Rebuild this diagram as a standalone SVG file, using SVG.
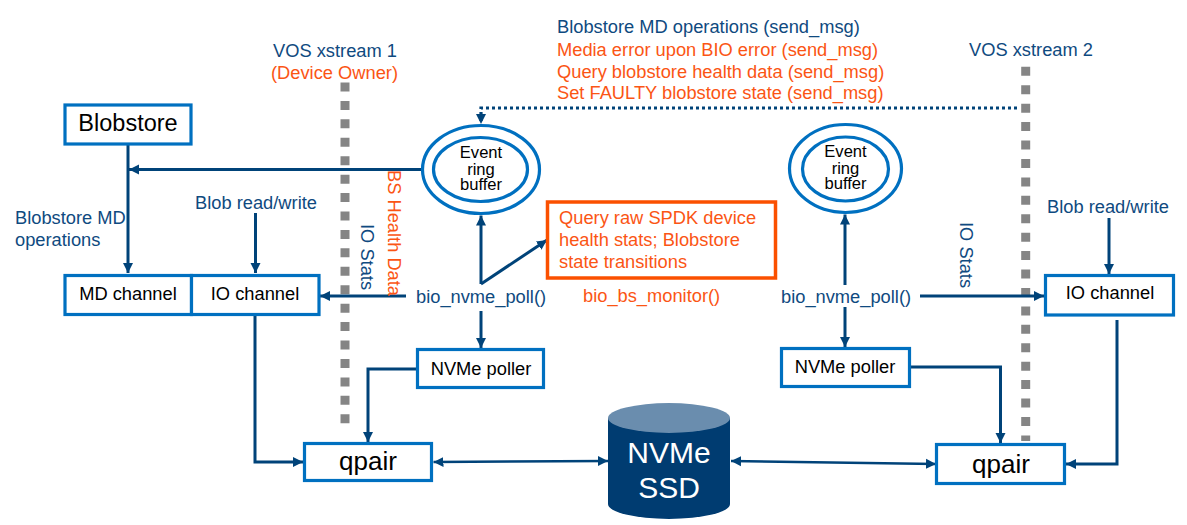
<svg xmlns="http://www.w3.org/2000/svg" width="1187" height="525" viewBox="0 0 1187 525">
<style>
text{font-family:"Liberation Sans",Arial,sans-serif;}
.box{fill:#fff;stroke:#0070c0;stroke-width:3.2;}
.ring{fill:#fff;stroke:#0070c0;stroke-width:3.2;}
.c{fill:none;stroke:#004379;stroke-width:3;}
.t{stroke-width:2.6;}
.d{stroke-dasharray:3 3;stroke-width:3.2;}
.g{fill:none;stroke:#858585;stroke-width:9;stroke-dasharray:9 9.43;}
.n{fill:#0f4a80;font-size:18.3px;}
.o{fill:#fb5514;font-size:18.3px;}
.k{fill:#000;text-anchor:middle;}
.m{font-size:18.3px;}
.e{font-size:16.6px;}
.q{font-size:26px;}
</style>
<defs>
<marker id="a" markerUnits="userSpaceOnUse" markerWidth="11" markerHeight="12" refX="10" refY="6" orient="auto"><path d="M0 1L10 6L0 11Z" fill="#004379"/></marker>
<marker id="b" markerUnits="userSpaceOnUse" markerWidth="11" markerHeight="12" refX="10" refY="6" orient="auto-start-reverse"><path d="M0 1L10 6L0 11Z" fill="#004379"/></marker>
</defs>

<g id="lanes">
<line class="g" x1="345" y1="82.5" x2="345" y2="432"/>
<line class="g" x1="1025.7" y1="66.8" x2="1025.7" y2="441"/>
</g>

<g id="connectors">
<path class="c" d="M128 145V273" marker-end="url(#a)"/>
<path class="c" d="M421 169.5H129" marker-end="url(#a)"/>
<path class="c" d="M255.5 213V273" marker-end="url(#a)"/>
<path class="c" d="M406 296H320" marker-end="url(#a)"/>
<path class="c" d="M255 316V462H303" marker-end="url(#a)"/>
<path class="c" d="M416 369H368V442" marker-end="url(#a)"/>
<path class="c" d="M481 311V348" marker-end="url(#a)"/>
<path class="c" d="M481 284V215.5" marker-end="url(#a)"/>
<path class="c" d="M481 284L547 240" marker-end="url(#a)"/>
<path class="c t" d="M433.5 462L608 461" marker-start="url(#b)" marker-end="url(#b)"/>
<path class="c t" d="M731 461L936 464" marker-start="url(#b)" marker-end="url(#b)"/>
<path class="c" d="M845 214.5V285" marker-start="url(#b)"/>
<path class="c" d="M845 307V347" marker-end="url(#a)"/>
<path class="c" d="M911 367H1000.500V443" marker-end="url(#a)"/>
<path class="c" d="M1117 320V464H1066" marker-end="url(#a)"/>
<path class="c" d="M1109 218V274" marker-end="url(#a)"/>
<path class="c" d="M920 296H1044" marker-end="url(#a)"/>
<path class="c d" d="M1017 108H481V124" marker-end="url(#a)"/>
</g>

<g id="blobstore"><rect class="box" x="65" y="105" width="126" height="39"/><text class="k" x="128" y="130.500" font-size="23.500">Blobstore</text></g>
<g id="md-channel"><rect class="box" x="65" y="275.500" width="126.500" height="39"/><text class="k m" x="128" y="300">MD channel</text></g>
<g id="io-channel-1"><rect class="box" x="191.500" y="275.500" width="127.500" height="39"/><text class="k m" x="255" y="300">IO channel</text></g>
<g id="io-channel-2"><rect class="box" x="1045.500" y="275.500" width="128" height="39.500"/><text class="k m" x="1110" y="299">IO channel</text></g>
<g id="nvme-poller-1"><rect class="box" x="417.500" y="349.500" width="126" height="38"/><text class="k m" x="481" y="374.500">NVMe poller</text></g>
<g id="nvme-poller-2"><rect class="box" x="781.500" y="348.500" width="128" height="38"/><text class="k m" x="845" y="372.500">NVMe poller</text></g>
<g id="qpair-1"><rect class="box" x="304.500" y="443.500" width="127" height="37"/><text class="k q" x="368" y="470">qpair</text></g>
<g id="qpair-2"><rect class="box" x="936.500" y="444.500" width="128" height="39"/><text class="k q" x="1001" y="473">qpair</text></g>

<g id="ring-1"><ellipse class="ring" cx="481" cy="169.500" rx="58.500" ry="44"/><ellipse class="ring" cx="480.500" cy="169.500" rx="47" ry="32"/>
<text class="k e" x="481" y="158">Event</text><text class="k e" x="481" y="174.500">ring</text><text class="k e" x="481" y="190">buffer</text></g>
<g id="ring-2"><ellipse class="ring" cx="845.500" cy="168.500" rx="56" ry="44"/><ellipse class="ring" cx="845.500" cy="169" rx="43" ry="32"/>
<text class="k e" x="845.500" y="157">Event</text><text class="k e" x="845.500" y="173.500">ring</text><text class="k e" x="845.500" y="189">buffer</text></g>

<g id="monitor"><rect x="547.500" y="202" width="228" height="76" fill="#fff" stroke="#fb5000" stroke-width="3.500"/>
<text class="o" x="559" y="224">Query raw SPDK device</text><text class="o" x="559" y="246">health stats; Blobstore</text><text class="o" x="559" y="268">state transitions</text></g>

<g id="ssd">
<path d="M608 418V504A61 15 0 0 0 730 504V418Z" fill="#003c71"/>
<ellipse cx="669" cy="418" rx="61" ry="15" fill="#6a8dae"/>
<text x="669" y="463" font-size="30" fill="#fff" text-anchor="middle">NVMe</text>
<text x="669" y="498" font-size="30" fill="#fff" text-anchor="middle">SSD</text>
</g>

<g id="labels">
<text class="n" x="273" y="57">VOS xstream 1</text>
<text class="o" x="271" y="79">(Device Owner)</text>
<text class="n" x="969" y="56">VOS xstream 2</text>
<text class="n" x="557" y="33">Blobstore MD operations (send_msg)</text>
<text class="o" x="557" y="56">Media error upon BIO error (send_msg)</text>
<text class="o" x="557" y="78">Query blobstore health data (send_msg)</text>
<text class="o" x="557" y="99">Set FAULTY blobstore state (send_msg)</text>
<text class="n" x="15" y="224">Blobstore MD</text>
<text class="n" x="15" y="246">operations</text>
<text class="n" x="195" y="209">Blob read/write</text>
<text class="n" x="1047" y="213">Blob read/write</text>
<text class="n" x="416" y="303">bio_nvme_poll()</text>
<text class="n" x="781" y="303">bio_nvme_poll()</text>
<text class="o" x="583" y="302">bio_bs_monitor()</text>
<text class="o" transform="translate(388 170) rotate(90)">BS Health Data</text>
<text class="n" transform="translate(361 224) rotate(90)">IO Stats</text>
<text class="n" transform="translate(960 222) rotate(90)">IO Stats</text>
</g>
</svg>
